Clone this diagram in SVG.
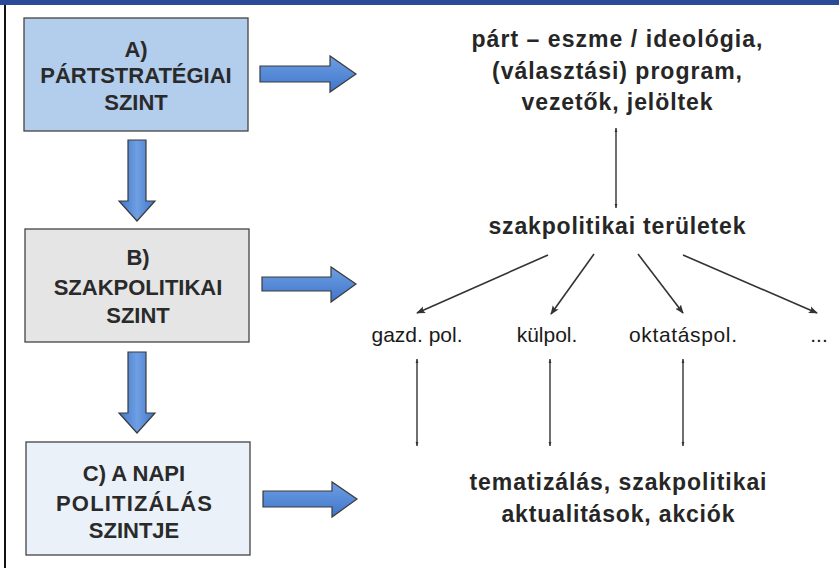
<svg xmlns="http://www.w3.org/2000/svg" width="839" height="568" viewBox="0 0 839 568">
  <defs>
    <linearGradient id="blueFill" x1="0" y1="0" x2="0" y2="1">
      <stop offset="0" stop-color="#6f9fe2"/>
      <stop offset="1" stop-color="#3f76cc"/>
    </linearGradient>
    <linearGradient id="blueFillV" x1="0" y1="0" x2="1" y2="0">
      <stop offset="0" stop-color="#3f76cc"/>
      <stop offset="0.5" stop-color="#6f9fe2"/>
      <stop offset="1" stop-color="#3f76cc"/>
    </linearGradient>
    <marker id="ah" viewBox="0 0 10 10" refX="9" refY="5" markerWidth="9" markerHeight="9" markerUnits="userSpaceOnUse" orient="auto">
      <path d="M0,1 L10,5 L0,9 L2,5 Z" fill="#333"/>
    </marker>
    <marker id="thin" viewBox="0 0 10 10" refX="10" refY="5" markerWidth="10" markerHeight="4" markerUnits="userSpaceOnUse" orient="auto-start-reverse">
      <path d="M0,1.5 L10,5 L0,8.5 Z" fill="#333"/>
    </marker>
  </defs>
  <style>
    .box { stroke: #444; stroke-width: 1.3; }
    .boxText { font-family: "Liberation Sans", Arial, sans-serif; font-weight: bold; font-size: 22px; fill: #2a2a2a; text-anchor: middle; }
    .bigText { font-family: "Liberation Sans", Arial, sans-serif; font-weight: bold; font-size: 23px; fill: #262626; text-anchor: middle; }
    .smallText { font-family: "Liberation Sans", Arial, sans-serif; font-size: 21px; fill: #1a1a1a; text-anchor: middle; }
    .blueArrow { fill: url(#blueFill); stroke: #3a3a3a; stroke-width: 1.2; }
    .blueArrowV { fill: url(#blueFillV); stroke: #3a3a3a; stroke-width: 1.2; }
    .conn { stroke: #333; stroke-width: 1.6; fill: none; }
    .vline { stroke: #222; stroke-width: 1.3; fill: none; }
  </style>

  <!-- frame -->
  <rect x="0" y="0" width="839" height="5" fill="#2b4a98"/>
  <line x1="5" y1="5" x2="5" y2="568" stroke="#111" stroke-width="2"/>

  <!-- left nodes -->
  <g id="nodeA">
    <rect class="box" x="24" y="18" width="224" height="113" fill="#b3cdec"/>
    <text class="boxText" x="136" y="57">A)</text>
    <text class="boxText" x="136" y="83">PÁRTSTRATÉGIAI</text>
    <text class="boxText" x="136" y="110">SZINT</text>
  </g>
  <g id="nodeB">
    <rect class="box" x="25" y="229" width="224" height="113" fill="#e5e5e5"/>
    <text class="boxText" x="138" y="265">B)</text>
    <text class="boxText" x="138" y="295">SZAKPOLITIKAI</text>
    <text class="boxText" x="138" y="323">SZINT</text>
  </g>
  <g id="nodeC">
    <rect class="box" x="26" y="442" width="224" height="113" fill="#ebf1f8"/>
    <text class="boxText" x="134" y="481">C) A NAPI</text>
    <text class="boxText" x="134" y="511" textLength="156" lengthAdjust="spacing">POLITIZÁLÁS</text>
    <text class="boxText" x="134" y="538">SZINTJE</text>
  </g>

  <!-- right nodes -->
  <g id="nodeTop">
    <text class="bigText" x="617" y="47" textLength="291" lengthAdjust="spacing">párt – eszme / ideológia,</text>
    <text class="bigText" x="617" y="79" textLength="250" lengthAdjust="spacing">(választási) program,</text>
    <text class="bigText" x="617" y="110" textLength="191" lengthAdjust="spacing">vezetők, jelöltek</text>
  </g>
  <g id="nodeSzak">
    <text class="bigText" x="617" y="234" textLength="257" lengthAdjust="spacing">szakpolitikai területek</text>
  </g>
  <g id="nodeGazd">
    <text class="smallText" x="417" y="342">gazd. pol.</text>
  </g>
  <g id="nodeKul">
    <text class="smallText" x="547" y="342">külpol.</text>
  </g>
  <g id="nodeOkt">
    <text class="smallText" x="683" y="342" textLength="108" lengthAdjust="spacing">oktatáspol.</text>
  </g>
  <g id="nodeDots">
    <text class="smallText" x="819" y="342">...</text>
  </g>
  <g id="nodeBottom">
    <text class="bigText" x="618" y="490" textLength="297" lengthAdjust="spacing">tematizálás, szakpolitikai</text>
    <text class="bigText" x="618" y="522" textLength="233" lengthAdjust="spacing">aktualitások, akciók</text>
  </g>

  <!-- connectors -->
  <g id="connectors">
    <path class="blueArrow" d="M260,66 H330 V56 L356,74 L330,92 V82 H260 Z"/>
    <path class="blueArrow" d="M262,277 H331 V267 L356,284 L331,302 V291 H262 Z"/>
    <path class="blueArrow" d="M263,491 H332 V482 L357,499 L332,517 V507 H263 Z"/>
    <path class="blueArrowV" d="M128,140 H146 V201 H155 L137,221 L119,201 H128 Z"/>
    <path class="blueArrowV" d="M128,352 H146 V413 H155 L137,433 L119,413 H128 Z"/>

    <line class="vline" x1="616" y1="128" x2="616" y2="208" marker-start="url(#thin)" marker-end="url(#thin)"/>
    <line class="conn" x1="548" y1="255" x2="417" y2="313" marker-end="url(#ah)"/>
    <line class="conn" x1="594" y1="254" x2="551" y2="314" marker-end="url(#ah)"/>
    <line class="conn" x1="638" y1="254" x2="683" y2="313" marker-end="url(#ah)"/>
    <line class="conn" x1="683" y1="255" x2="817" y2="313" marker-end="url(#ah)"/>
    <line class="vline" x1="417" y1="359" x2="417" y2="446" marker-start="url(#thin)" marker-end="url(#thin)"/>
    <line class="vline" x1="550" y1="359" x2="550" y2="446" marker-start="url(#thin)" marker-end="url(#thin)"/>
    <line class="vline" x1="683" y1="359" x2="683" y2="446" marker-start="url(#thin)" marker-end="url(#thin)"/>
  </g>
</svg>
